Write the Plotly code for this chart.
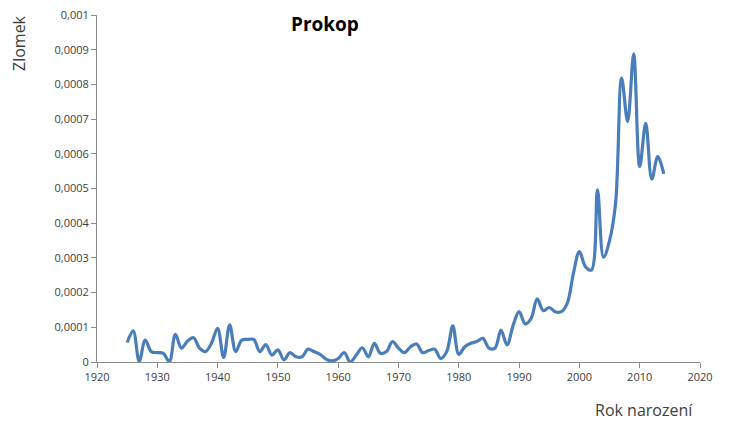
import plotly.graph_objects as go

years = list(range(1925, 2015))
values = [
    0.000056, 0.000090, 0.000002, 0.000063, 0.000030, 0.000027, 0.000025, 0.000001, 0.000080, 0.000040,  # 1925-1934
    0.000060, 0.000070, 0.000040, 0.000030, 0.000055, 0.000097, 0.000013, 0.000107, 0.000030, 0.000063,  # 1935-1944
    0.000065, 0.000065, 0.000030, 0.000050, 0.000020, 0.000035, 0.000006, 0.000027, 0.000015, 0.000015,  # 1945-1954
    0.000037, 0.000030, 0.000022, 0.000008, 0.000003, 0.000010, 0.000027, 0.000000, 0.000020, 0.000041,  # 1955-1964
    0.000015, 0.000054, 0.000025, 0.000030, 0.000059, 0.000040, 0.000027, 0.000044, 0.000052, 0.000027,  # 1965-1974
    0.000033, 0.000037, 0.000010, 0.000030, 0.000104, 0.000022, 0.000044, 0.000054, 0.000059, 0.000068,  # 1975-1984
    0.000040, 0.000040, 0.000092, 0.000049, 0.000105, 0.000145, 0.000110, 0.000126, 0.000182, 0.000148,  # 1985-1994
    0.000157, 0.000145, 0.000145, 0.000170, 0.000255, 0.000318, 0.000275, 0.000265, 0.000496, 0.000302,  # 1995-2004
    0.000350, 0.000457, 0.000818, 0.000693, 0.000888, 0.000563, 0.000688, 0.000527, 0.000592, 0.000542,  # 2005-2014
]

y_ticks = [0, 0.0001, 0.0002, 0.0003, 0.0004, 0.0005, 0.0006, 0.0007, 0.0008, 0.0009, 0.001]
y_tick_labels = ["0", "0,0001", "0,0002", "0,0003", "0,0004", "0,0005", "0,0006", "0,0007", "0,0008", "0,0009", "0,001"]
x_ticks = [1920, 1930, 1940, 1950, 1960, 1970, 1980, 1990, 2000, 2010, 2020]

L, R, T, B = 97, 31, 15, 61
W, H = 731, 423
pw, ph = W - L - R, H - T - B


def px_to_paper(px, py):
    return (px - L) / pw, (H - B - py) / ph


fig = go.Figure()
fig.add_trace(go.Scatter(
    x=years, y=values, mode="lines",
    line=dict(color="#4A7EBB", width=3.2, shape="spline", smoothing=1.0),
    hoverinfo="x+y",
))

font = "Open Sans, Liberation Sans, sans-serif"
tx, ty = px_to_paper(325, 24)
zx, zy = px_to_paper(19, 43)
rx, ry = px_to_paper(644, 410)

fig.update_layout(
    width=W, height=H,
    margin=dict(l=L, r=R, t=T, b=B, autoexpand=False),
    paper_bgcolor="white", plot_bgcolor="white",
    showlegend=False,
    font=dict(family=font, size=11, color="#404040"),
    xaxis=dict(
        range=[1920, 2020], tickvals=x_ticks, ticktext=[str(v) for v in x_ticks],
        showgrid=False, zeroline=False, showline=True, linecolor="#8C8C8C", linewidth=1,
        ticks="outside", ticklen=5, tickcolor="#8C8C8C", automargin=False,
        tickfont=dict(size=11, color="#404040"),
    ),
    yaxis=dict(
        range=[0, 0.001], tickvals=y_ticks, ticktext=y_tick_labels,
        showgrid=False, zeroline=False, showline=True, linecolor="#8C8C8C", linewidth=1,
        ticks="outside", ticklen=5, tickcolor="#8C8C8C", automargin=False,
        tickfont=dict(size=11, color="#404040"),
    ),
    annotations=[
        dict(text="<b>Prokop</b>", x=tx, y=ty, xref="paper", yref="paper", showarrow=False,
             xanchor="center", yanchor="middle",
             font=dict(size=19, color="black", family=font)),
        dict(text="Zlomek", textangle=-90, xref="paper", yref="paper", x=zx, y=zy, showarrow=False,
             xanchor="center", yanchor="middle",
             font=dict(size=16, color="#404040", family=font)),
        dict(text="Rok narození", xref="paper", yref="paper", x=rx, y=ry, showarrow=False,
             xanchor="center", yanchor="middle",
             font=dict(size=16, color="#404040", family=font)),
    ],
)

fig.write_html(
    "out.html",
    config={"displayModeBar": False},
    post_script="document.body.style.margin='0';document.body.style.overflow='hidden';",
)
